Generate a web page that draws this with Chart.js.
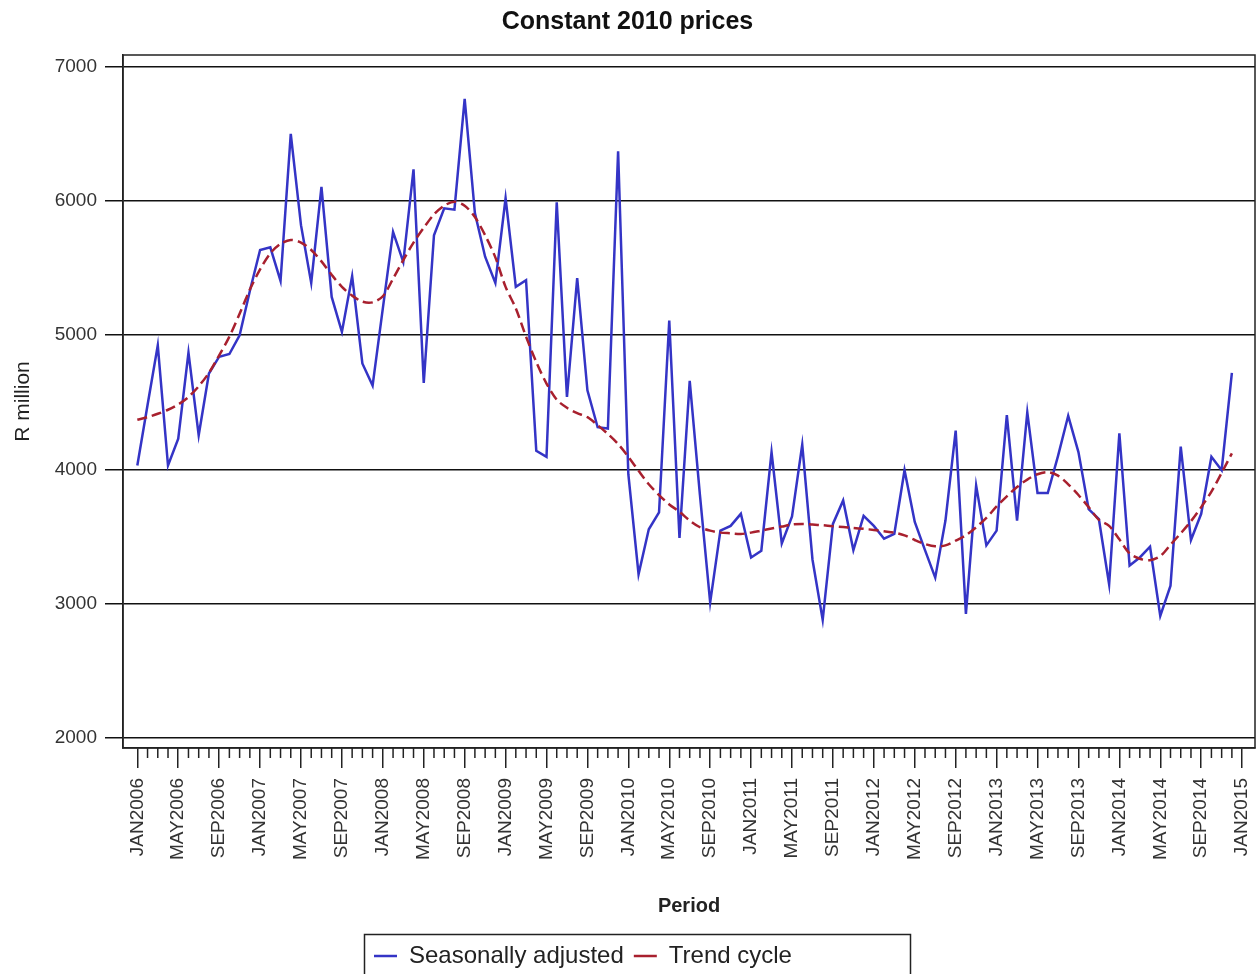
<!DOCTYPE html>
<html>
<head>
<meta charset="utf-8">
<script src="https://cdn.jsdelivr.net/npm/chart.js@4.4.0/dist/chart.umd.min.js"></script>
<style>
  html, body { margin: 0; padding: 0; background: #fff; }
  #wrap { width: 1260px; height: 974px; }
</style>
</head>
<body>
<div id="wrap"><canvas id="chart"></canvas></div>
<script>
// monthly, JAN2006 .. DEC2014
const years = [2006, 2007, 2008, 2009, 2010, 2011, 2012, 2013, 2014];
const monthNames = ['JAN','FEB','MAR','APR','MAY','JUN','JUL','AUG','SEP','OCT','NOV','DEC'];
const periods = [];
years.forEach(y => monthNames.forEach(m => periods.push(m + y)));

// labelled every 4 months on the axis
const tickLabels = ['JAN2006','MAY2006','SEP2006','JAN2007','MAY2007','SEP2007','JAN2008','MAY2008',
  'SEP2008','JAN2009','MAY2009','SEP2009','JAN2010','MAY2010','SEP2010','JAN2011','MAY2011','SEP2011',
  'JAN2012','MAY2012','SEP2012','JAN2013','MAY2013','SEP2013','JAN2014','MAY2014','SEP2014','JAN2015'];

const yTicks = [2000, 3000, 4000, 5000, 6000, 7000];

const seasonallyAdjusted = [
  4030, 4480, 4925, 4030, 4230, 4870, 4255, 4715, 4840, 4860, 5000, 5330,
  5635, 5655, 5405, 6500, 5820, 5390, 6105, 5285, 5025, 5440, 4790, 4625,
  5200, 5770, 5545, 6235, 4645, 5745, 5945, 5935, 6760, 5910, 5585, 5390,
  6020, 5360, 5410, 4140, 4095, 5990, 4540, 5425, 4590, 4315, 4305, 6370,
  3965, 3220, 3555, 3680, 5110, 3490, 4660, 3810, 3010, 3545, 3580, 3670,
  3345, 3395, 4130, 3450, 3650, 4185, 3330, 2880, 3595, 3770, 3400, 3655,
  3580, 3485, 3520, 3995, 3610, 3400, 3195, 3620, 4290, 2925, 3880, 3435,
  3545, 4405, 3620, 4425, 3825, 3825, 4100, 4400, 4130, 3705, 3630, 3145,
  4270, 3285, 3345, 3425, 2910, 3135, 4170, 3475, 3670, 4095, 3995, 4720
];

const trendCycle = [
  4370, 4390, 4415, 4445, 4485, 4540, 4620, 4720, 4850, 4990, 5160, 5340,
  5490, 5610, 5680, 5710, 5690, 5635, 5550, 5450, 5360, 5295, 5250, 5245,
  5290, 5420, 5560, 5690, 5800, 5900, 5965, 5995, 5965, 5880, 5745, 5580,
  5360, 5200, 4990, 4800, 4640, 4520, 4460, 4420, 4390, 4330, 4265, 4190,
  4095, 3990, 3890, 3810, 3740, 3685, 3620, 3570, 3545, 3530, 3525, 3520,
  3530, 3545, 3560, 3575, 3590, 3595, 3590, 3585, 3578, 3572, 3565, 3558,
  3550, 3540, 3530, 3510, 3475, 3445, 3428, 3435, 3470, 3510, 3570, 3640,
  3725, 3800, 3870, 3925, 3965, 3980, 3955, 3890, 3810, 3720, 3625, 3580,
  3480, 3375, 3335, 3325, 3355, 3440, 3525, 3615, 3720, 3835, 3975, 4120
];

const FONT = "'Liberation Sans', Arial, sans-serif";
const PLOT_BOTTOM = 748;

// frame round the plot, short monthly ticks, box round the legend
const extras = {
  id: 'extras',
  afterLayout(chart) {
    const lg = chart.legend;
    lg.left = 364; lg.right = 910; lg.width = 546;
    lg.top = 934; lg.bottom = 934 + lg.height;
  },
  afterDraw(chart) {
    const ctx = chart.ctx, a = chart.chartArea, x = chart.scales.x;
    ctx.save();
    ctx.strokeStyle = '#222';
    ctx.lineWidth = 1.5;
    ctx.strokeRect(a.left, a.top, a.right - a.left, a.bottom - a.top);
    for (let i = 0; i <= periods.length; i++) {
      if (i % 4 === 0) continue;
      const px = x.getPixelForValue(i);
      ctx.beginPath();
      ctx.moveTo(px, a.bottom);
      ctx.lineTo(px, a.bottom + 10);
      ctx.stroke();
    }
    const lg = chart.legend;
    ctx.strokeRect(lg.left + 0.5, lg.top + 0.5, lg.width, 60);
    ctx.restore();
  }
};

new Chart(document.getElementById('chart'), {
  type: 'line',
  data: {
    datasets: [
      {
        label: 'Seasonally adjusted',
        data: seasonallyAdjusted.map((v, i) => ({ x: i, y: v })),
        borderColor: '#3434c6',
        backgroundColor: '#3434c6',
        borderWidth: 2.5,
        pointRadius: 0,
        tension: 0,
        order: 1
      },
      {
        label: 'Trend cycle',
        data: trendCycle.map((v, i) => ({ x: i, y: v })),
        borderColor: '#a8202e',
        backgroundColor: '#a8202e',
        borderWidth: 2.5,
        borderDash: [10, 5],
        pointRadius: 0,
        tension: 0.3,
        order: 0
      }
    ]
  },
  options: {
    responsive: true,
    maintainAspectRatio: false,
    animation: false,
    layout: { padding: { left: 0, right: 5, top: 0, bottom: 0 } },
    plugins: {
      title: {
        display: true,
        text: 'Constant 2010 prices',
        color: '#111',
        font: { family: FONT, size: 25, weight: 'bold' },
        padding: { top: 7, bottom: 18 }
      },
      legend: {
        position: 'bottom',
        align: 'start',
        labels: {
          usePointStyle: true,
          pointStyle: 'line',
          pointStyleWidth: 23,
          padding: 10,
          color: '#222',
          font: { family: FONT, size: 24 },
          sort: (a, b) => a.datasetIndex - b.datasetIndex
        }
      },
      tooltip: { enabled: false }
    },
    scales: {
      x: {
        type: 'linear',
        min: -1.4,
        max: 109.26,
        afterBuildTicks: s => {
          s.ticks = [];
          for (let i = 0; i <= periods.length; i += 4) s.ticks.push({ value: i });
        },
        afterFit: s => {
          s.height = (974 - s.chart.legend.height) - PLOT_BOTTOM;
          s.paddingLeft = 0;
          s.paddingRight = 0;
        },
        ticks: {
          autoSkip: false,
          minRotation: 90,
          maxRotation: 90,
          padding: 10,
          color: '#333',
          font: { family: FONT, size: 19 },
          callback: v => tickLabels[v / 4]
        },
        grid: { drawOnChartArea: false, tickLength: 20, color: '#222', lineWidth: 1.5 },
        border: { color: '#222', width: 1.5 },
        title: {
          display: true,
          text: 'Period',
          color: '#222',
          font: { family: FONT, size: 20, weight: 'bold' },
          padding: { top: 0, bottom: 12 }
        }
      },
      y: {
        min: 1926,
        max: 7087,
        afterBuildTicks: s => { s.ticks = yTicks.map(v => ({ value: v })); },
        afterFit: s => { s.width = 123; },
        ticks: {
          padding: 8,
          color: '#333',
          font: { family: FONT, size: 19 },
          callback: v => String(v)
        },
        grid: { color: '#111', lineWidth: 1.5, tickLength: 18 },
        border: { color: '#222', width: 1.5 },
        title: {
          display: true,
          text: 'R million',
          color: '#222',
          font: { family: FONT, size: 21 },
          padding: { top: 11, bottom: 0 }
        }
      }
    }
  },
  plugins: [extras]
});
</script>
</body>
</html>
